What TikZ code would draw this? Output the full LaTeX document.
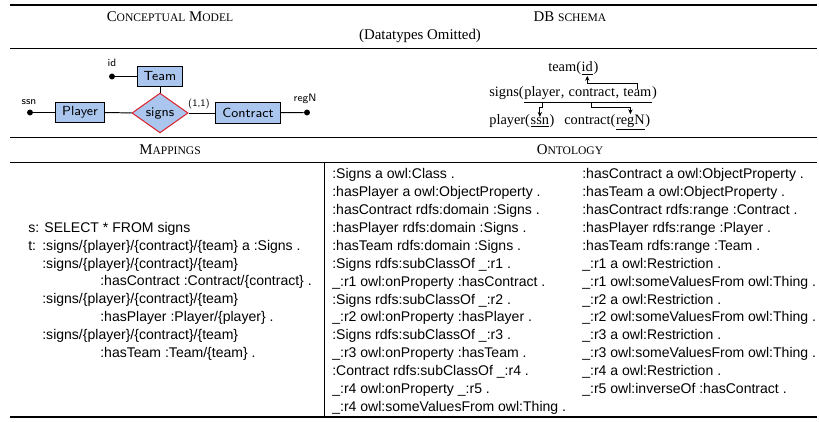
\documentclass[tikz,border=0pt]{standalone}
\usepackage{fontspec}
\setmainfont{Liberation Serif}
\newfontfamily\ontfont{Liberation Sans}
\usetikzlibrary{shapes.geometric,arrows.meta}
\definecolor{erfill}{RGB}{170,198,238}
\definecolor{erred}{RGB}{220,30,40}
\newcommand\fakesc[2]{#1{\fontsize{7}{8}\selectfont #2}}
\begin{document}
\begin{tikzpicture}[x=0.6056pt,y=-0.6056pt,
  rulethick/.style={line width=0.8pt},
  rulethin/.style={line width=0.5pt},
  hdr/.style={font=\fontsize{9}{11}\selectfont, inner sep=0pt},
  ontline/.style={font=\ontfont\fontsize{8.5}{10}\selectfont, inner sep=0pt, anchor=base west},
  dbt/.style={font=\fontsize{8.7}{10}\selectfont, inner sep=0pt, anchor=base west},
  ent/.style={draw, fill=erfill, line width=0.6pt, font=\sffamily\fontsize{8}{9}\selectfont, minimum height=12.7pt, inner xsep=4pt, inner ysep=0pt},
  rel/.style={diamond, draw=erred, fill=erfill, line width=0.6pt, font=\sffamily\fontsize{8}{9}\selectfont, minimum width=34pt, minimum height=16.4pt, inner sep=0pt},
  attr/.style={circle, fill=black, inner sep=0pt, minimum size=3.6pt},
  attrlbl/.style={font=\sffamily\fontsize{6.5}{7}\selectfont, inner sep=0pt},
  erline/.style={line width=0.6pt},
  fk/.style={-{Stealth[length=3pt,width=2.6pt]}, line width=0.5pt}
]
\fill[white] (0,0) rectangle (819,422);
\useasboundingbox (0,0) rectangle (819,422);

% table rules
\draw[rulethick] (10,5) -- (817,5);
\draw[rulethin] (10,48) -- (817,48);
\draw[rulethin] (10,137) -- (817,137);
\draw[rulethin] (10,162) -- (817,162);
\draw[rulethin] (324,162) -- (324,417);
\draw[rulethick] (10,417) -- (817,417);

% headers
\node[hdr] (hcm) at (170,17) {\fakesc{C}{ONCEPTUAL} \fakesc{M}{ODEL}};
\node[hdr] (hdb) at (570,17) {DB {\fontsize{7}{8}\selectfont SCHEMA}};
\node[hdr] (hdt) at (420,36) {(Datatypes Omitted)};
\node[hdr] (hmap) at (170,150) {\fakesc{M}{APPINGS}};
\node[hdr] (hont) at (570,150) {\fakesc{O}{NTOLOGY}};

% ER diagram
\node[ent] (team) at (160,76.5) {Team};
\node[ent] (player) at (80,112.5) {Player};
\node[rel] (signs) at (160,113) {signs};
\node[ent] (contract) at (248,113) {Contract};
\node[attr] (aid) at (112,76.5) {};
\node[attr] (assn) at (30,112.5) {};
\node[attr] (areg) at (307,112.5) {};
\node[attrlbl] (lid) at (112,63) {id};
\node[attrlbl] (lssn) at (29,102) {ssn};
\node[attrlbl] (lreg) at (305,99) {regN};
\node[attrlbl, font=\sffamily\fontsize{6}{7}\selectfont] (card) at (199,104) {(1,1)};
\draw[erline] (aid) -- (team);
\draw[erline] (team) -- (signs);
\draw[erline] (assn) -- (player);
\draw[erline] (player) -- (signs);
\draw[erline] (signs) -- (contract);
\draw[erline] (contract) -- (areg);

% DB schema
\node[dbt] (tm0) at (548,72) {team(};
\node[dbt] (idn) at (tm0.base east) {\underline{id}};
\node[dbt] (tm1) at (idn.base east) {)};
\node[dbt] (s0) at (489,97) {signs(};
\node[dbt] (sp) at (s0.base east) {player};
\node[dbt] (sk1) at (sp.base east) {,\kern2.18pt\relax};
\node[dbt] (sc) at (sk1.base east) {contract};
\node[dbt] (sk2) at (sc.base east) {,\kern2.18pt\relax};
\node[dbt] (st) at (sk2.base east) {team};
\node[dbt] (s1) at (st.base east) {)};
\node[dbt] (pl0) at (489,124) {player(};
\node[dbt] (ssn) at (pl0.base east) {\underline{ssn}};
\node[dbt] (pl1) at (ssn.base east) {)};
\node[dbt] (ct0) at (564,124) {contract(};
\node[dbt] (rn) at (ct0.base east) {\underline{regN}};
\node[dbt] (ct1) at (rn.base east) {)};
\draw[line width=0.4pt] ([yshift=-3pt]sp.base west) -- ([yshift=-3pt]st.base east);
\coordinate (lvA) at (0,83);
\coordinate (lvB) at (0,107);
\draw[fk] (st.north) |- (idn.south |- lvA) -- (idn.south);
\draw[fk] ([yshift=-3pt]sp.base) |- (ssn.north |- lvB) -- (ssn.north);
\draw[fk] ([yshift=-3pt]sc.base) |- (rn.north |- lvB) -- (rn.north);

% mappings
\node[ontline] (m1) at (28,232.2) {s: SELECT * FROM signs};
\node[ontline] (m2a) at (28,250.1) {t:};
\node[ontline] (m2) at (42,250.1) {:signs/\{player\}/\{contract\}/\{team\} a :Signs .};
\node[ontline] (m3) at (42,268.0) {:signs/\{player\}/\{contract\}/\{team\}};
\node[ontline] (m4) at (100,285.9) {:hasContract :Contract/\{contract\} .};
\node[ontline] (m5) at (42,303.8) {:signs/\{player\}/\{contract\}/\{team\}};
\node[ontline] (m6) at (100,321.7) {:hasPlayer :Player/\{player\} .};
\node[ontline] (m7) at (42,339.6) {:signs/\{player\}/\{contract\}/\{team\}};
\node[ontline] (m8) at (100,357.5) {:hasTeam :Team/\{team\} .};

% ontology
\foreach \t [count=\i] in {
  {:Signs a owl:Class .},
  {:hasPlayer a owl:ObjectProperty .},
  {:hasContract rdfs:domain :Signs .},
  {:hasPlayer rdfs:domain :Signs .},
  {:hasTeam rdfs:domain :Signs .},
  {:Signs rdfs:subClassOf \_:r1 .},
  {\_:r1 owl:onProperty :hasContract .},
  {:Signs rdfs:subClassOf \_:r2 .},
  {\_:r2 owl:onProperty :hasPlayer .},
  {:Signs rdfs:subClassOf \_:r3 .},
  {\_:r3 owl:onProperty :hasTeam .},
  {:Contract rdfs:subClassOf \_:r4 .},
  {\_:r4 owl:onProperty \_:r5 .},
  {\_:r4 owl:someValuesFrom owl:Thing .}}
  \node[ontline] (oa\i) at (332,160.8+\i*17.9) {\t};
\foreach \t [count=\i] in {
  {:hasContract a owl:ObjectProperty .},
  {:hasTeam a owl:ObjectProperty .},
  {:hasContract rdfs:range :Contract .},
  {:hasPlayer rdfs:range :Player .},
  {:hasTeam rdfs:range :Team .},
  {\_:r1 a owl:Restriction .},
  {\_:r1 owl:someValuesFrom owl:Thing .},
  {\_:r2 a owl:Restriction .},
  {\_:r2 owl:someValuesFrom owl:Thing .},
  {\_:r3 a owl:Restriction .},
  {\_:r3 owl:someValuesFrom owl:Thing .},
  {\_:r4 a owl:Restriction .},
  {\_:r5 owl:inverseOf :hasContract .}}
  \node[ontline] (ob\i) at (582,160.8+\i*17.9) {\t};
\end{tikzpicture}
\end{document}
